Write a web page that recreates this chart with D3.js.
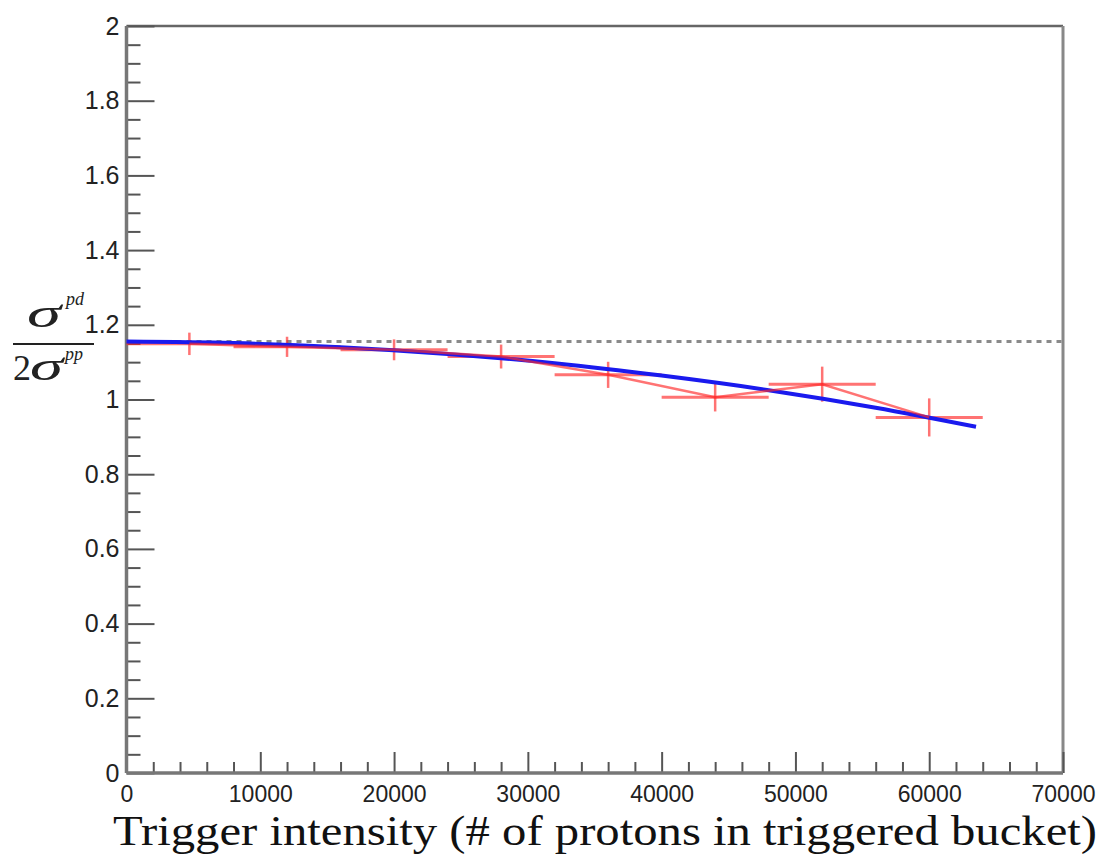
<!DOCTYPE html>
<html>
<head>
<meta charset="utf-8">
<script src="https://cdn.jsdelivr.net/npm/d3@7"></script>
<style>
  html, body { margin: 0; padding: 0; background: #fff; }
  svg { display: block; }
</style>
</head>
<body>
<svg id="chart" width="1104" height="861"></svg>
<script>
// ---- data ----
const pointX   = [4700, 12000, 20000, 28000, 36000, 44000, 52000, 60000];
const binLow   = [0, 8000, 16000, 24000, 32000, 40000, 48000, 56000];
const binHigh  = [8000, 16000, 24000, 32000, 40000, 48000, 56000, 64000];
const ratio    = [1.149, 1.141, 1.133, 1.115, 1.066, 1.006, 1.041, 0.952];
const ratioErr = [0.030, 0.027, 0.028, 0.032, 0.035, 0.038, 0.047, 0.051];

const fitX = [0, 8000, 16000, 24000, 32000, 40000, 48000, 56000, 63500];
const fitY = [1.155, 1.151, 1.140, 1.122, 1.097, 1.064, 1.025, 0.978, 0.927];

const refLevel = 1.155;

const xTicks = [0, 10000, 20000, 30000, 40000, 50000, 60000, 70000];
const yTicks = [0, 0.2, 0.4, 0.6, 0.8, 1, 1.2, 1.4, 1.6, 1.8, 2];
const xTitle = "Trigger intensity (# of protons in triggered bucket)";

// ---- layout ----
const L = 126.5, R = 1063, T = 26, B = 773;
const svg = d3.select("#chart");
const x = d3.scaleLinear().domain([0, 70000]).range([L, R]);
const y = d3.scaleLinear().domain([0, 2]).range([B, T]);

const axisColor = "#777";
const tickColor = "#555";

// frame top & right
svg.append("line").attr("x1", L).attr("x2", R).attr("y1", T).attr("y2", T)
  .attr("stroke", "#666").attr("stroke-width", 2.5);
svg.append("line").attr("x1", R).attr("x2", R).attr("y1", T).attr("y2", B)
  .attr("stroke", "#888").attr("stroke-width", 3);

// minor ticks
const xMinor = d3.range(0, 70001, 2000).filter(v => v % 10000 !== 0);
const yMinor = d3.range(0, 41).map(i => i * 0.05).filter((v, i) => i % 4 !== 0);

function styleAxis(g) {
  g.select(".domain").remove();
  g.selectAll(".tick line").attr("stroke", tickColor).attr("stroke-width", 2);
}

svg.append("g").attr("transform", `translate(0,${B})`)
  .call(d3.axisBottom(x).tickValues(xMinor).tickSize(-11).tickFormat(""))
  .call(styleAxis);
svg.append("g").attr("transform", `translate(${L},0)`)
  .call(d3.axisLeft(y).tickValues(yMinor).tickSize(-14).tickFormat(""))
  .call(styleAxis);

const gx = svg.append("g").attr("transform", `translate(0,${B})`)
  .call(d3.axisBottom(x).tickValues(xTicks).tickSize(-21).tickPadding(13).tickFormat(d3.format("d")))
  .call(styleAxis);
gx.selectAll("text").attr("font-family", "Liberation Sans, Arial, sans-serif")
  .attr("font-size", 23).attr("fill", "#222");

const gy = svg.append("g").attr("transform", `translate(${L},0)`)
  .call(d3.axisLeft(y).tickValues(yTicks).tickSize(-28).tickPadding(7).tickFormat(d => d3.format("")(+d.toFixed(1))))
  .call(styleAxis);
gy.selectAll("text").attr("font-family", "Liberation Sans, Arial, sans-serif")
  .attr("font-size", 25).attr("fill", "#222");

// axis lines
svg.append("line").attr("x1", L).attr("x2", R).attr("y1", B).attr("y2", B)
  .attr("stroke", axisColor).attr("stroke-width", 3.5);
svg.append("line").attr("x1", L).attr("x2", L).attr("y1", T).attr("y2", B)
  .attr("stroke", axisColor).attr("stroke-width", 3.5);

// dotted reference line
svg.append("line").attr("x1", L).attr("x2", R)
  .attr("y1", y(refLevel)).attr("y2", y(refLevel))
  .attr("stroke", "#8a8a8a").attr("stroke-width", 3)
  .attr("stroke-dasharray", "5,5");

// data: error bars
const red = "rgba(255,40,40,0.65)";
const pts = pointX.map((v, i) => ({x: v, lo: binLow[i], hi: binHigh[i], y: ratio[i], e: ratioErr[i]}));
const ge = svg.append("g");
ge.selectAll("line.h").data(pts).join("line").attr("class", "h")
  .attr("x1", d => x(d.lo)).attr("x2", d => x(d.hi))
  .attr("y1", d => y(d.y)).attr("y2", d => y(d.y))
  .attr("stroke", red).attr("stroke-width", 3);
ge.selectAll("line.v").data(pts).join("line").attr("class", "v")
  .attr("x1", d => x(d.x)).attr("x2", d => x(d.x))
  .attr("y1", d => y(d.y - d.e)).attr("y2", d => y(d.y + d.e))
  .attr("stroke", red).attr("stroke-width", 2.5);

// fit curve
svg.append("path").datum(fitX.map((v, i) => [v, fitY[i]]))
  .attr("d", d3.line().x(d => x(d[0])).y(d => y(d[1])).curve(d3.curveMonotoneX))
  .attr("fill", "none").attr("stroke", "#1a1aee").attr("stroke-width", 4);

// connecting red line
svg.append("path").datum(pts)
  .attr("d", d3.line().x(d => x(d.x)).y(d => y(d.y)))
  .attr("fill", "none").attr("stroke", red).attr("stroke-width", 2.5);

// x title
svg.append("text").attr("x", 113).attr("y", 845)
  .attr("font-family", "Liberation Serif, Times New Roman, serif")
  .attr("font-size", 42).attr("fill", "#111")
  .attr("textLength", 984).attr("lengthAdjust", "spacingAndGlyphs")
  .text(xTitle);

// y title: fraction sigma^pd / 2 sigma^pp
const yl = svg.append("g").attr("font-family", "Liberation Serif, Times New Roman, serif").attr("fill", "#222");
yl.append("text").attr("x", 27).attr("y", 327).attr("font-size", 42).attr("font-style", "italic")
  .attr("textLength", 34).attr("lengthAdjust", "spacingAndGlyphs").text("σ");
yl.append("text").attr("x", 66).attr("y", 305).attr("font-size", 18).attr("font-style", "italic").text("pd");
yl.append("line").attr("x1", 13).attr("x2", 94).attr("y1", 344).attr("y2", 344)
  .attr("stroke", "#222").attr("stroke-width", 2);
yl.append("text").attr("x", 13).attr("y", 380).attr("font-size", 36).text("2");
yl.append("text").attr("x", 30).attr("y", 380).attr("font-size", 42).attr("font-style", "italic")
  .attr("textLength", 33).attr("lengthAdjust", "spacingAndGlyphs").text("σ");
yl.append("text").attr("x", 65).attr("y", 360).attr("font-size", 18).attr("font-style", "italic").text("pp");
</script>
</body>
</html>
